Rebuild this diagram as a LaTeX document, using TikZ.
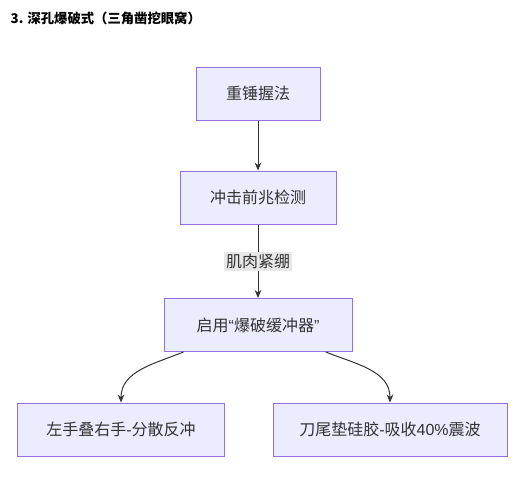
\documentclass[tikz,border=0pt]{standalone}
\usepackage{fontspec}
\newfontfamily\cjk{Noto Sans CJK SC}
\newfontfamily\lat{Liberation Sans}
\usetikzlibrary{arrows.meta}
\definecolor{boxfill}{HTML}{ECECFF}
\definecolor{boxline}{HTML}{9370DB}
\definecolor{ink}{HTML}{333333}
\definecolor{tagfill}{HTML}{E8E8E8}
\newcommand{\lt}[1]{{\lat #1}}
\begin{document}
\begin{tikzpicture}[
	                  x = 0.75pt,
	                  y = -0.75pt,
	      every node/.style = {font=\cjk\fontsize{12}{14}\selectfont, text=ink},
	           stepbox/.style = {draw=boxline, fill=boxfill, line width=0.75pt,
	                             minimum height=39.75pt, inner xsep=0pt, minimum width=#1},
	              link/.style = {draw=ink, line width=0.75pt, -{Stealth[length=6pt,width=5pt]}},
	               tag/.style = {fill=tagfill, inner sep=1.5pt},
	                     ]
	    \useasboundingbox (0,0) rectangle (530,479);
		\node[anchor=west, text=black, font=\cjk\bfseries\fontsize{10}{12}\selectfont] (title) at (6,18) {3. 深孔爆破式（三角凿挖眼窝）};
		\node[stepbox=93pt] (grip) at (258,93.5) {重锤握法};
		\node[stepbox=117pt] (detect) at (258,197.5) {冲击前兆检测};
		\node[stepbox=141pt] (buffer) at (258,325) {启用\lt{“}爆破缓冲器\lt{”}};
		\node[stepbox=155.25pt] (hands) at (121,429.5) {左手叠右手\lt{-}分散反冲};
		\node[stepbox=175.5pt] (tail) at (390,429.5) {刀尾垫硅胶\lt{-}吸收\lt{40\%}震波};
		\draw[link] (grip) -- (detect);
		\draw[link] (detect) -- node[tag] (tense) {肌肉紧绷} (buffer);
		\draw[link] ([xshift=15pt]buffer.south west) to[out=-158,in=90] (hands.north);
		\draw[link] ([xshift=-20pt]buffer.south east) to[out=-22,in=90] (tail.north);
	\end{tikzpicture}
\end{document}
